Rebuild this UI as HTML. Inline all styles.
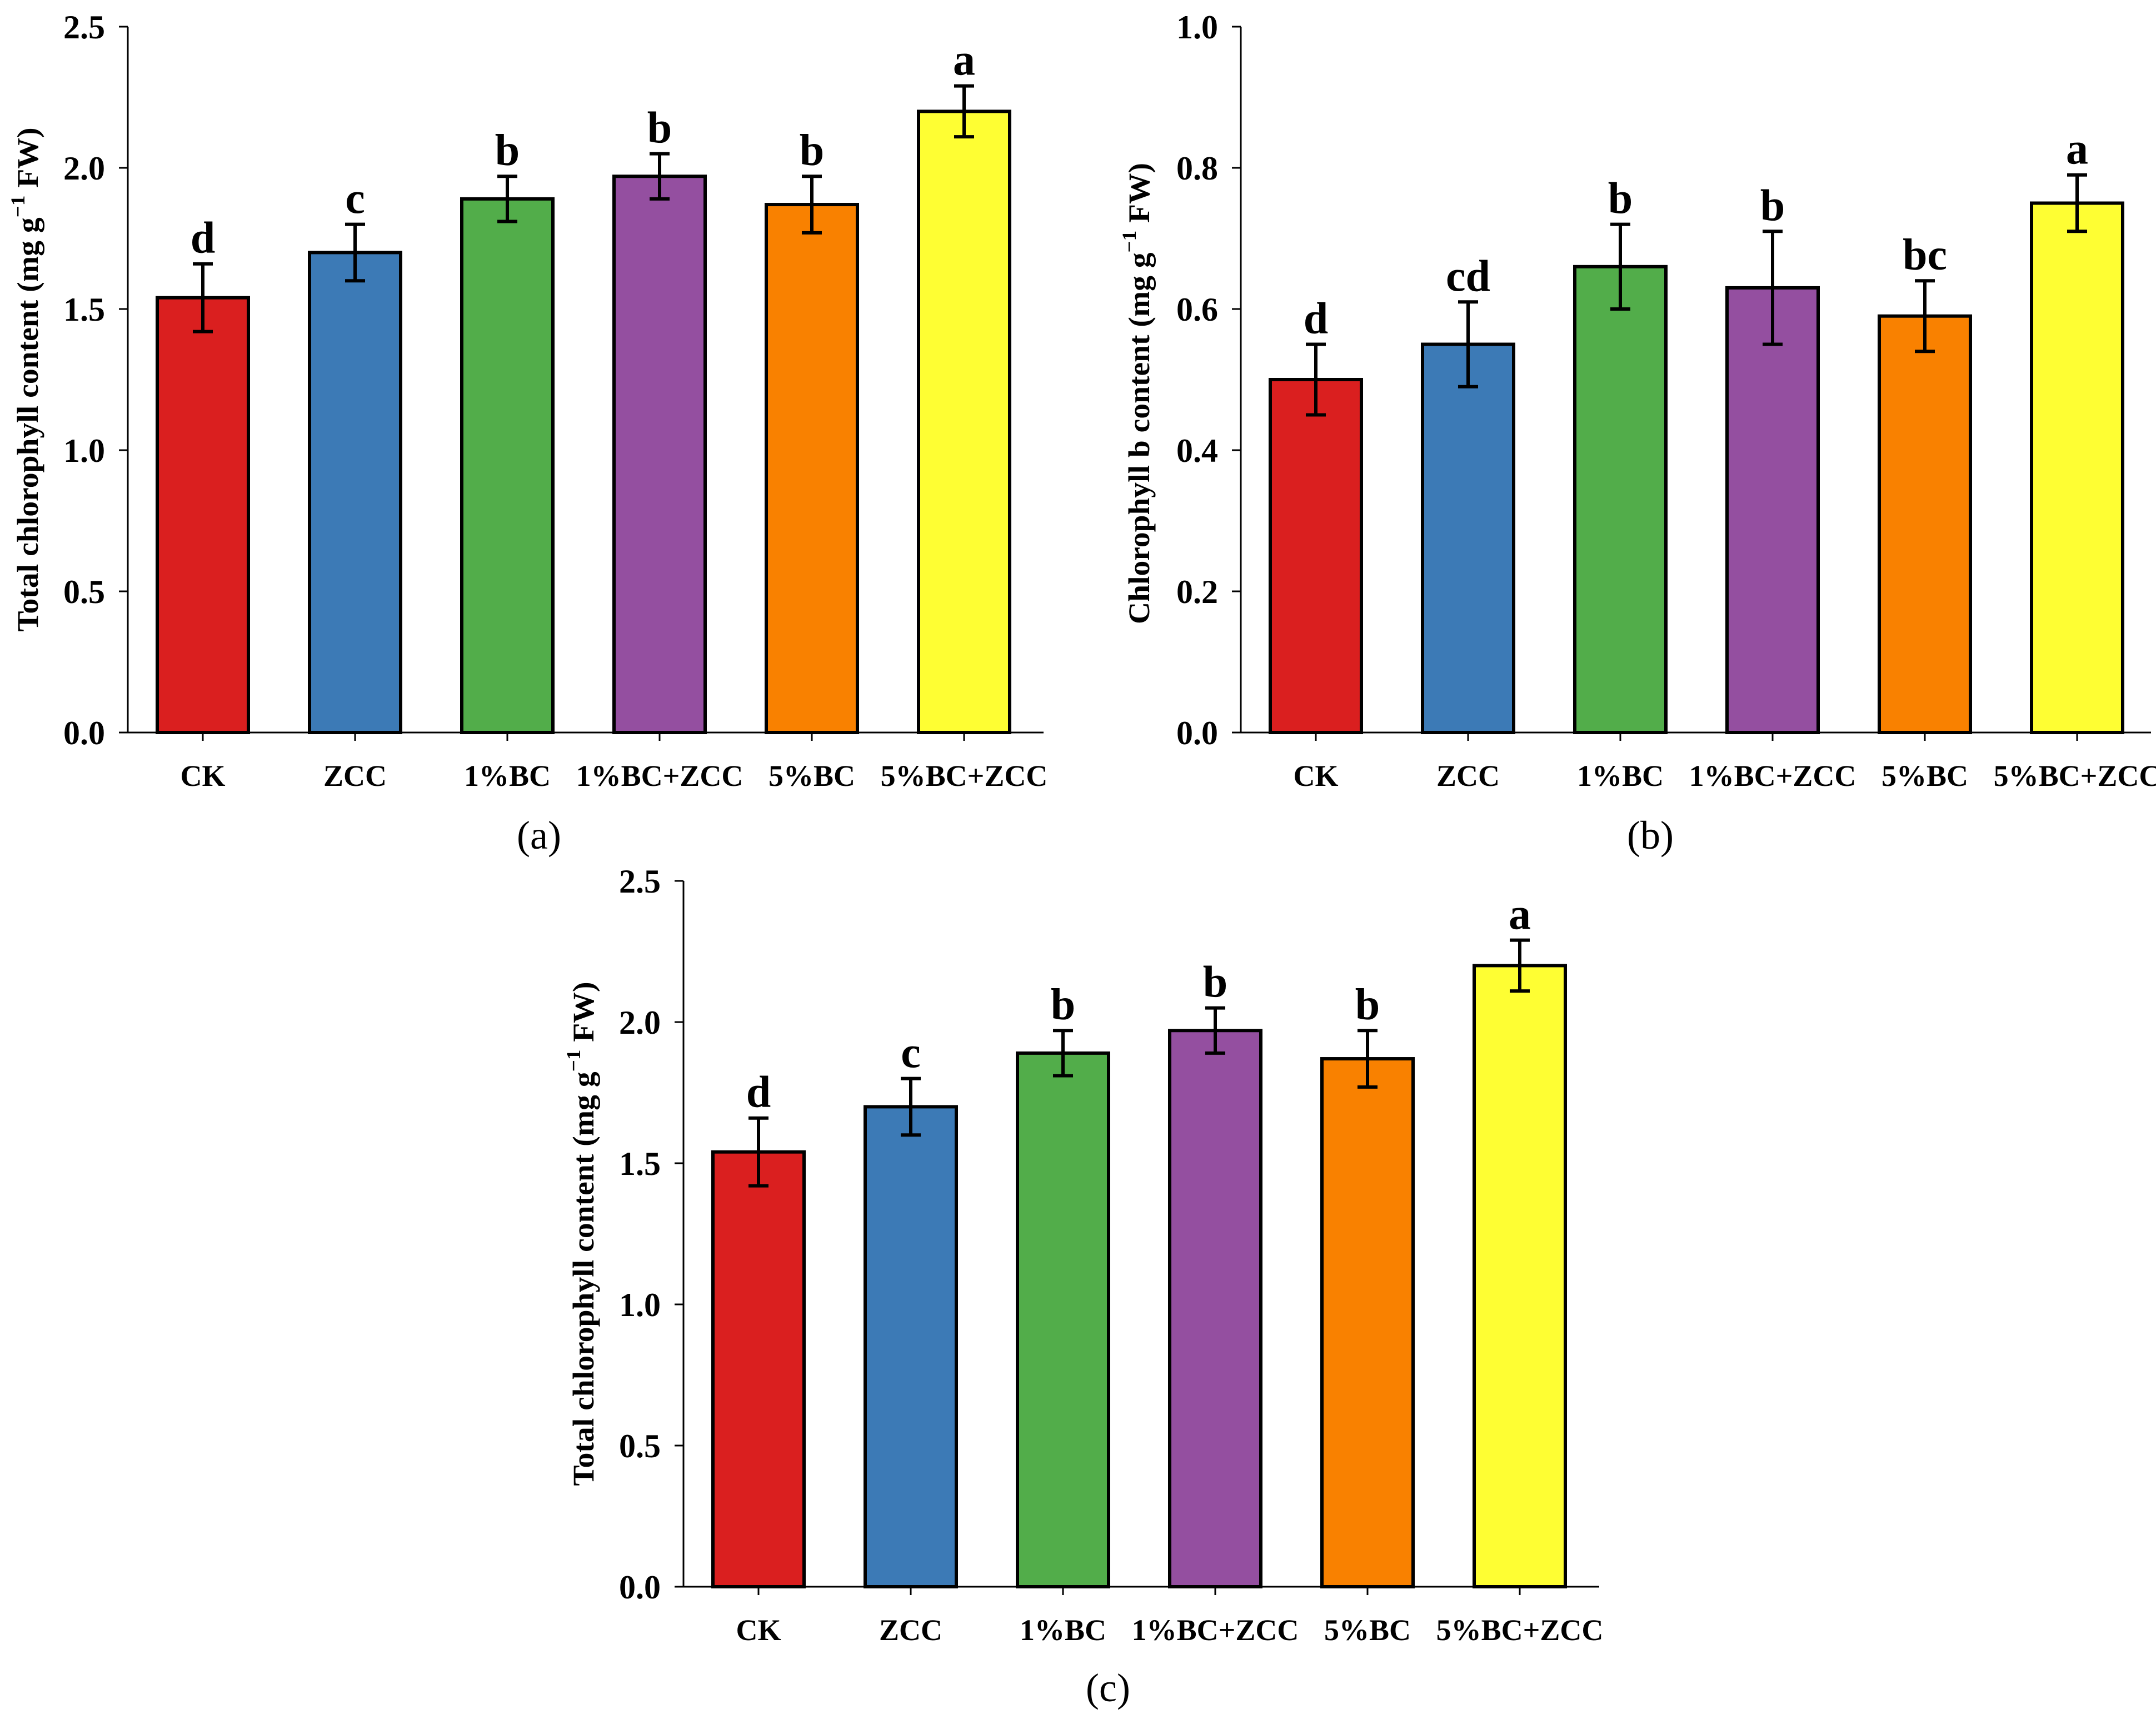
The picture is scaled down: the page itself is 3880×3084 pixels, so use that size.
<!DOCTYPE html>
<html><head><meta charset="utf-8"><style>
html,body{margin:0;padding:0;background:#fff;}
svg{display:block;}
text{font-family:"Liberation Serif",serif;}
</style></head><body>
<svg id="fig" width="3880" height="3084" viewBox="0 0 3880 3084" xmlns="http://www.w3.org/2000/svg"></svg>
<script>
const categories = ["CK","ZCC","1%BC","1%BC+ZCC","5%BC","5%BC+ZCC"];
const colors = ["#DA1F1F","#3C7AB6","#52AD4A","#944FA0","#F98100","#FEFE33"];
const valuesA = [1.54,1.70,1.89,1.97,1.87,2.20];
const errorsA = [0.12,0.10,0.08,0.08,0.10,0.09];
const lettersA = ["d","c","b","b","b","a"];
const ticksA = ["0.0","0.5","1.0","1.5","2.0","2.5"];
const valuesB = [0.50,0.55,0.66,0.63,0.59,0.75];
const errorsB = [0.05,0.06,0.06,0.08,0.05,0.04];
const lettersB = ["d","cd","b","b","bc","a"];
const ticksB = ["0.0","0.2","0.4","0.6","0.8","1.0"];
const valuesC = [1.54,1.70,1.89,1.97,1.87,2.20];
const errorsC = [0.12,0.10,0.08,0.08,0.10,0.09];
const lettersC = ["d","c","b","b","b","a"];
const ticksC = ["0.0","0.5","1.0","1.5","2.0","2.5"];

const NS="http://www.w3.org/2000/svg";
const svg=document.getElementById('fig');
function mk(tag,attrs,parent){const e=document.createElementNS(NS,tag);for(const k in attrs)e.setAttribute(k,attrs[k]);(parent||svg).appendChild(e);return e;}

function panel(id,ox,top,bottom,right,ymax,vals,errs,letters,ticks,title,titleX,titleLen,titleDy,caption,capX,capY){
  const g=mk('g',{});
  
  
  const y=v=>bottom-(v/ymax)*(bottom-top);
  const step=274, first=ox+135, bw=164;
  const x=i=>first+i*step;
  const ya=mk('line',{x1:ox,y1:top,x2:ox,y2:bottom,stroke:'#000','stroke-width':3},g);
  
  
  const xa=mk('line',{x1:ox-16,y1:bottom,x2:right,y2:bottom,stroke:'#000','stroke-width':3},g);
  
  
  ticks.forEach((t,i)=>{
    const v=parseFloat(t), ty=y(v);
    mk('line',{x1:ox-16,y1:ty,x2:ox,y2:ty,stroke:'#000','stroke-width':3},g);
    const tx=mk('text',{x:ox-41,y:ty+21,'text-anchor':'end','font-size':60,'font-weight':'bold'},g);
    tx.textContent=t;
    
    
  });
  categories.forEach((c,i)=>{
    const cx=x(i);
    mk('line',{x1:cx,y1:bottom,x2:cx,y2:bottom+15,stroke:'#000','stroke-width':3},g);
    const r=mk('rect',{x:cx-bw/2,y:y(vals[i]),width:bw,height:bottom-y(vals[i]),fill:colors[i],stroke:'#000','stroke-width':6},g);
    
    
    const hi=y(vals[i]+errs[i]), lo=y(vals[i]-errs[i]);
    const eb=mk('path',{d:`M${cx},${hi}V${lo}M${cx-18},${hi}H${cx+18}M${cx-18},${lo}H${cx+18}`,stroke:'#000','stroke-width':6,fill:'none'},g);
    
    
    const lt=mk('text',{x:cx,y:hi-20,'text-anchor':'middle','font-size':80,'font-weight':'bold'},g);
    lt.textContent=letters[i];
    
    
    const ct=mk('text',{x:cx,y:bottom+96,'text-anchor':'middle','font-size':54,'font-weight':'bold'},g);
    ct.textContent=c;
    
    
  });
  const cy=(top+bottom)/2+titleDy;
  const tt=mk('text',{x:0,y:0,'text-anchor':'middle','font-size':54,'font-weight':'bold',transform:`translate(${titleX+18},${cy}) rotate(-90)`,textLength:titleLen,lengthAdjust:'spacingAndGlyphs'},g);
  tt.innerHTML=title+' (mg g<tspan dy="-24" font-size="36">−1</tspan><tspan dy="24"> FW)</tspan>';
  
  
  const cp=mk('text',{x:capX,y:capY,'text-anchor':'middle','font-size':72},g);
  cp.textContent=caption;
  
  
}
panel('a',230,48,1318,1878,2.5,valuesA,errorsA,lettersA,ticksA,'Total chlorophyll content',50,907,0,'(a)',970,1527);
panel('b',2233,48,1318,3871,1.0,valuesB,errorsB,lettersB,ticksB,'Chlorophyll b content',2050,830,25,'(b)',2970,1527);
panel('c',1230,1585,2855,2878,2.5,valuesC,errorsC,lettersC,ticksC,'Total chlorophyll content',1050,907,0,'(c)',1994,3061);
</script>
</body></html>
